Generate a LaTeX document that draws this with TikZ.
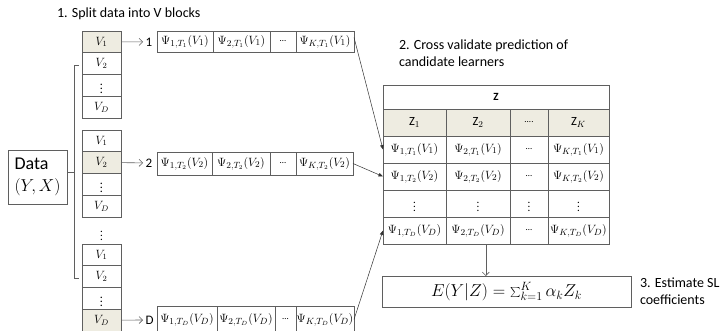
\documentclass[tikz,border=0pt]{standalone}
\usepackage{fontspec}
\setmainfont{Carlito}
\usetikzlibrary{arrows.meta,positioning}
\definecolor{blockfill}{HTML}{EEECE1}
\definecolor{gridline}{HTML}{5F5F5F}
\newcommand{\psilab}[3]{$\Psi_{#1,T_{#2}}(V_{#3})$}

\begin{document}
\begin{tikzpicture}[
  x=1pt,
  y=-1pt,
  every node/.style={inner sep=0pt, outer sep=0pt},
  vcell/.style={draw=gridline, line width=0.6pt, minimum width=39pt, minimum height=21.75pt, anchor=north west, font=\fontsize{12}{14}\selectfont},
  vsel/.style={vcell, fill=blockfill},
  psicell/.style={draw=gridline, line width=0.6pt, anchor=north west, font=\fontsize{12.5}{14}\selectfont},
  zcell/.style={draw=gridline, line width=0.6pt, minimum height=27pt, anchor=north west, font=\fontsize{12.5}{14}\selectfont},
  zhead/.style={zcell, fill=blockfill},
  caption/.style={font=\fontsize{14}{17}\selectfont, align=left, anchor=west},
  foldlab/.style={font=\fontsize{13}{15}\selectfont, anchor=west, inner sep=2.5pt},
  split/.style={-{Straight Barb[length=3.5pt,width=7pt]}, draw=gridline, line width=0.6pt},
  link/.style={-{Triangle[length=4.5pt,width=3.5pt]}, draw=black!80, line width=0.5pt}
]
  \useasboundingbox (0,0) rectangle (728,330);

  % Step captions.
  \node[caption] (step1) at (57,14) {1. Split data into V blocks};
  \node[caption] (step2) at (399,53.5) {2. Cross validate prediction of\\candidate learners};
  \node[caption] (step3) at (640,291) {3. Estimate SL\\coefficients};

  % Full data set and the bracket over the splits.
  \node[draw=gridline, line width=0.6pt, minimum width=59pt, minimum height=54pt, anchor=north west,
        align=left, inner sep=1.5pt, font=\fontsize{18}{22}\selectfont] (data) at (8,150) {Data\\$(Y,X)$};
  \coordinate (brtop) at (74,65);
  \coordinate (brbot) at (74,278);
  \draw[gridline, line width=0.6pt] ([xshift=5pt]brtop) -- (brtop) -- (brbot) -- ([xshift=5pt]brbot);
  \draw[gridline, line width=0.6pt] ([yshift=5pt]data.east) -- ([yshift=5pt]data.east -| brtop);

  % Split 1.
  \node[vsel] (b1v1) at (82,31) {$V_1$};
  \node[vcell, below=0pt of b1v1] (b1v2) {$V_2$};
  \node[vcell, below=0pt of b1v2] (b1dots) {$\vdots$};
  \node[vcell, below=0pt of b1dots] (b1vd) {$V_D$};

  % Split 2.
  \node[vcell] (b2v1) at (82,130) {$V_1$};
  \node[vsel, below=0pt of b2v1] (b2v2) {$V_2$};
  \node[vcell, below=0pt of b2v2] (b2dots) {$\vdots$};
  \node[vcell, below=0pt of b2dots] (b2vd) {$V_D$};

  \node[font=\fontsize{11}{12}\selectfont\boldmath] (bdots) at (101.5,233) {$\vdots$};

  % Split D.
  \node[vcell] (b3v1) at (82,244) {$V_1$};
  \node[vcell, below=0pt of b3v1] (b3v2) {$V_2$};
  \node[vcell, below=0pt of b3v2] (b3dots) {$\vdots$};
  \node[vsel, below=0pt of b3dots] (b3vd) {$V_D$};

  % Predictions on each validation block.
  \node[foldlab] (lab1) at (143,41.9) {1};
  \node[psicell, minimum width=56pt, minimum height=21pt] (r1a) at (157,31) {\psilab{1}{1}{1}};
  \node[psicell, minimum width=57pt, minimum height=21pt, right=0pt of r1a] (r1b) {\psilab{2}{1}{1}};
  \node[psicell, minimum width=26pt, minimum height=21pt, right=0pt of r1b, font=\fontsize{9}{10}\selectfont] (r1c) {…};
  \node[psicell, minimum width=58pt, minimum height=21pt, right=0pt of r1c] (r1d) {\psilab{K}{1}{1}};

  \node[foldlab] (lab2) at (143,162.9) {2};
  \node[psicell, minimum width=55pt, minimum height=23pt] (r2a) at (157,152) {\psilab{1}{2}{2}};
  \node[psicell, minimum width=58pt, minimum height=23pt, right=0pt of r2a] (r2b) {\psilab{2}{2}{2}};
  \node[psicell, minimum width=26pt, minimum height=23pt, right=0pt of r2b, font=\fontsize{9}{10}\selectfont] (r2c) {…};
  \node[psicell, minimum width=57pt, minimum height=23pt, right=0pt of r2c] (r2d) {\psilab{K}{2}{2}};

  \node[foldlab] (lab3) at (143,320) {D};
  \node[psicell, minimum width=60pt, minimum height=27pt] (r3a) at (157,306) {\psilab{1}{D}{D}};
  \node[psicell, minimum width=58pt, minimum height=27pt, right=0pt of r3a] (r3b) {\psilab{2}{D}{D}};
  \node[psicell, minimum width=21pt, minimum height=27pt, right=0pt of r3b, font=\fontsize{9}{10}\selectfont] (r3c) {…};
  \node[psicell, minimum width=58pt, minimum height=27pt, right=0pt of r3c] (r3d) {\psilab{K}{D}{D}};

  \draw[split] (b1v1.east) -- (lab1.west);
  \draw[split] (b2v2.east) -- (lab2.west);
  \draw[split] (b3vd.east) -- (lab3.west);

  % Level-one matrix Z.
  \node[zcell, minimum width=226pt, minimum height=24pt, font=\fontsize{11}{12}\selectfont\bfseries] (ztitle) at (383,85) {Z};
  \node[zhead, minimum width=63pt] (zh1) at (383,109) {$\mathrm{Z}_1$};
  \node[zhead, minimum width=64pt, right=0pt of zh1] (zh2) {$\mathrm{Z}_2$};
  \node[zhead, minimum width=38pt, right=0pt of zh2, font=\fontsize{9}{10}\selectfont] (zh3) {....};
  \node[zhead, minimum width=61pt, right=0pt of zh3] (zh4) {$\mathrm{Z}_K$};

  \node[zcell, minimum width=63pt] (z11) at (383,136) {\psilab{1}{1}{1}};
  \node[zcell, minimum width=64pt, right=0pt of z11] (z12) {\psilab{2}{1}{1}};
  \node[zcell, minimum width=38pt, right=0pt of z12, font=\fontsize{9}{10}\selectfont] (z13) {…};
  \node[zcell, minimum width=61pt, right=0pt of z13] (z14) {\psilab{K}{1}{1}};

  \node[zcell, minimum width=63pt] (z21) at (383,163) {\psilab{1}{2}{2}};
  \node[zcell, minimum width=64pt, right=0pt of z21] (z22) {\psilab{2}{2}{2}};
  \node[zcell, minimum width=38pt, right=0pt of z22, font=\fontsize{9}{10}\selectfont] (z23) {…};
  \node[zcell, minimum width=61pt, right=0pt of z23] (z24) {\psilab{K}{2}{2}};

  \node[zcell, minimum width=63pt, font=\fontsize{11}{12}\selectfont] (z31) at (383,190) {$\vdots$};
  \node[zcell, minimum width=64pt, right=0pt of z31, font=\fontsize{11}{12}\selectfont] (z32) {$\vdots$};
  \node[zcell, minimum width=38pt, right=0pt of z32, font=\fontsize{11}{12}\selectfont] (z33) {$\vdots$};
  \node[zcell, minimum width=61pt, right=0pt of z33, font=\fontsize{11}{12}\selectfont] (z34) {$\vdots$};

  \node[zcell, minimum width=63pt] (z41) at (383,217) {\psilab{1}{D}{D}};
  \node[zcell, minimum width=64pt, right=0pt of z41] (z42) {\psilab{2}{D}{D}};
  \node[zcell, minimum width=38pt, right=0pt of z42, font=\fontsize{9}{10}\selectfont] (z43) {…};
  \node[zcell, minimum width=61pt, right=0pt of z43] (z44) {\psilab{K}{D}{D}};

  % Super learner fit.
  \node[draw=gridline, line width=0.6pt, minimum width=249pt, minimum height=31pt, anchor=north west,
        font=\fontsize{16.5}{18}\selectfont] (estbox) at (382,276) {$E(Y|Z)=\sum_{k=1}^{K}\alpha_k Z_k$};

  \draw[link] (r1d.8) -- (z11.west);
  \draw[link] (r2d.east) -- (z21.west);
  \draw[link] (r3d.east) -- (z41.west);
  \draw[split] (z42.-60) -- (z42.-60 |- estbox.north);
\end{tikzpicture}
\end{document}
